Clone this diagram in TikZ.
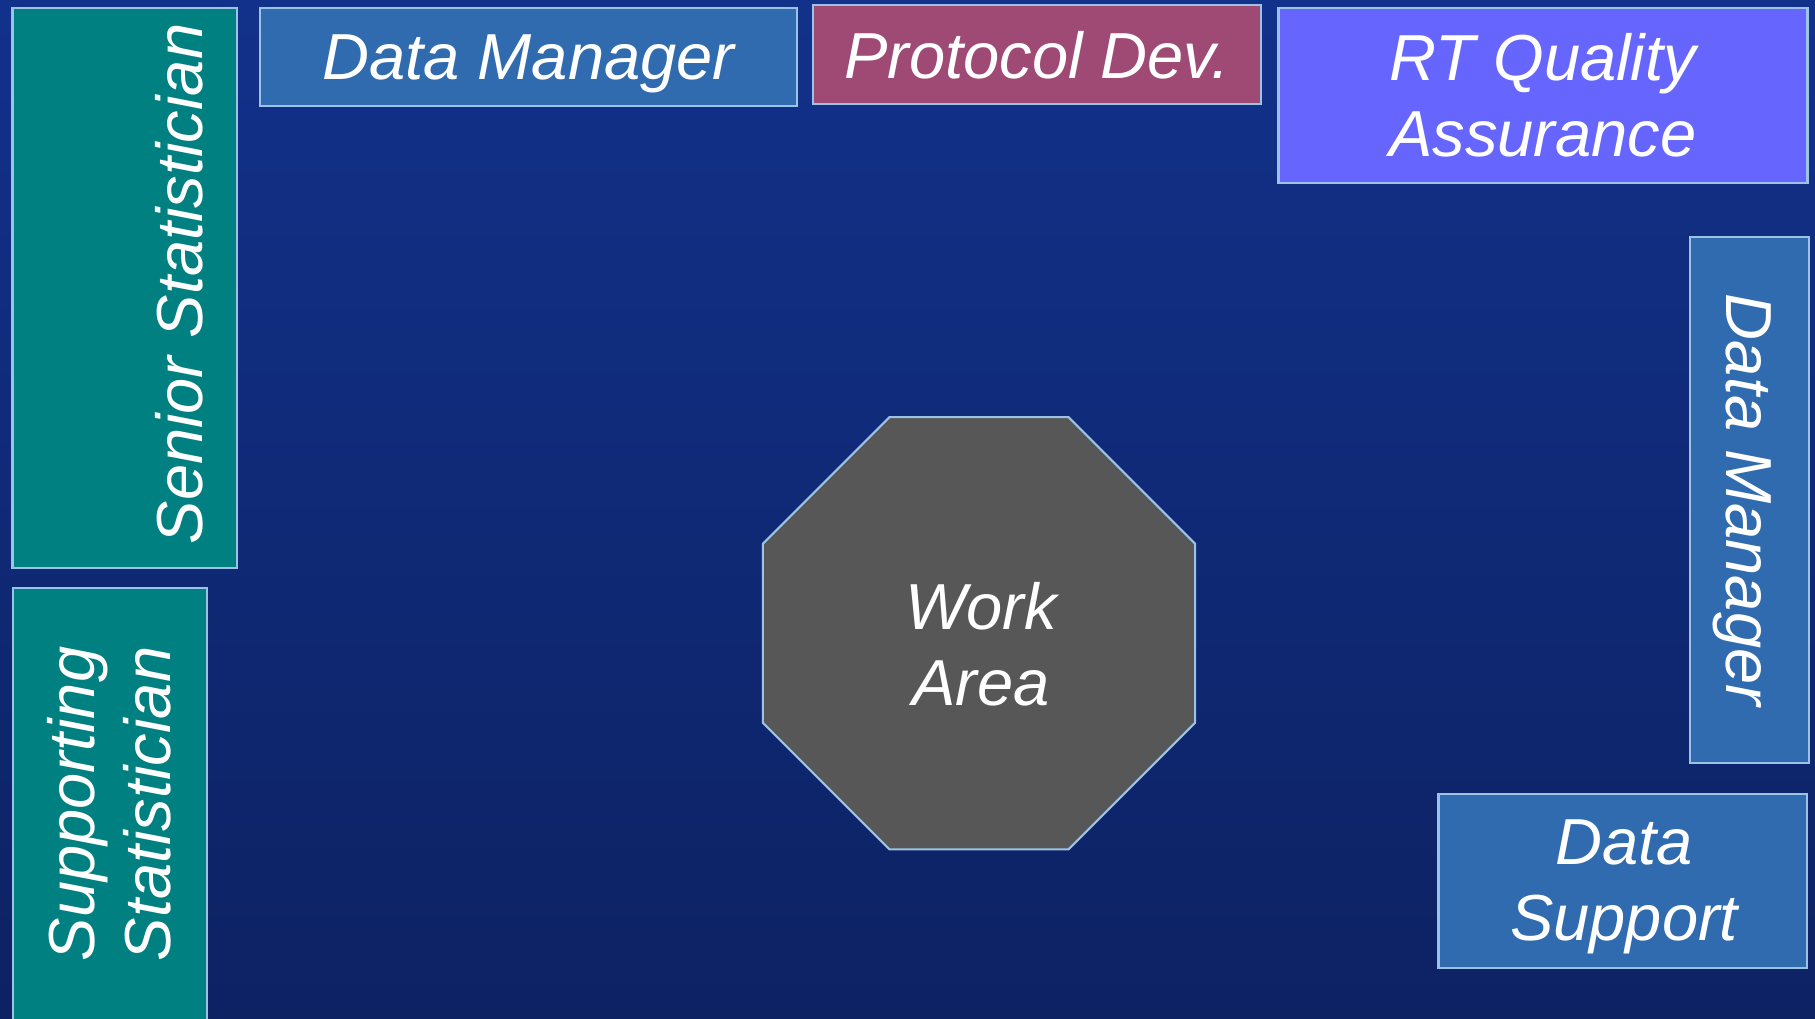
\documentclass[tikz,border=0pt]{standalone}
\usepackage{fontspec}
\setmainfont{Liberation Sans}
\usetikzlibrary{shapes.geometric}

\definecolor{bgtop}{RGB}{18,49,138}
\definecolor{bgbottom}{RGB}{13,34,99}
\definecolor{edgecol}{RGB}{156,195,230}
\definecolor{statcol}{RGB}{0,128,128}
\definecolor{datacol}{RGB}{47,107,174}
\definecolor{protcol}{RGB}{158,74,116}
\definecolor{qacol}{RGB}{102,102,255}
\definecolor{workcol}{RGB}{87,87,87}

\begin{document}
\begin{tikzpicture}[x=0.01cm,y=-0.01cm,
    role text/.style={text=white,inner sep=0pt,align=center,
      font=\itshape\fontsize{18.5}{21.6}\selectfont},
    role node/.style={role text,rectangle,draw=edgecol,line width=0.6pt},
    one line/.style={text depth=0pt},
    work node/.style={regular polygon,regular polygon sides=8,
      minimum size=4.676cm,inner sep=0pt,fill=workcol,draw=edgecol,line width=0.6pt}]

    \shade[top color=bgtop,bottom color=bgbottom] (0,0) rectangle (1815,1018);
    \useasboundingbox (0,0) rectangle (1815,1018);

    % left column
    \node[role node,fill=statcol,minimum width=2.244cm,minimum height=5.603cm] (SS) at (124.8,287.9) {};
    \node[role text,one line,rotate=90] (SSL) at (179,284) {Senior Statistician};
    \node[role node,fill=statcol,rotate=90,minimum width=4.32cm,minimum height=1.94cm] (SUP) at (109.7,804) {Supporting\\Statistician};

    % top row
    \node[role node,one line,fill=datacol,minimum width=5.37cm,minimum height=0.983cm] (DM) at (528.5,56.9) {Data Manager};
    \node[role node,one line,fill=protcol,minimum width=4.48cm,minimum height=0.983cm] (PD) at (1037,54.6) {Protocol Dev.};
    \node[role node,fill=qacol,minimum width=5.287cm,minimum height=1.753cm] (QA) at (1543,95.4) {RT Quality\\Assurance};

    % right column
    \node[role node,one line,fill=datacol,rotate=-90,minimum width=5.26cm,minimum height=1.186cm] (DMR) at (1749.3,500) {Data Manager};
    \node[role node,fill=datacol,minimum width=3.684cm,minimum height=1.738cm] (DS) at (1622.8,880.9) {};
    \node[role text] (DSL) at (1624,887) {Data\\Support};

    % centre
    \node[work node] (WA) at (979,633.3) {};
    \node[role text] (WAL) at (981,644) {Work\\Area};
\end{tikzpicture}
\end{document}
